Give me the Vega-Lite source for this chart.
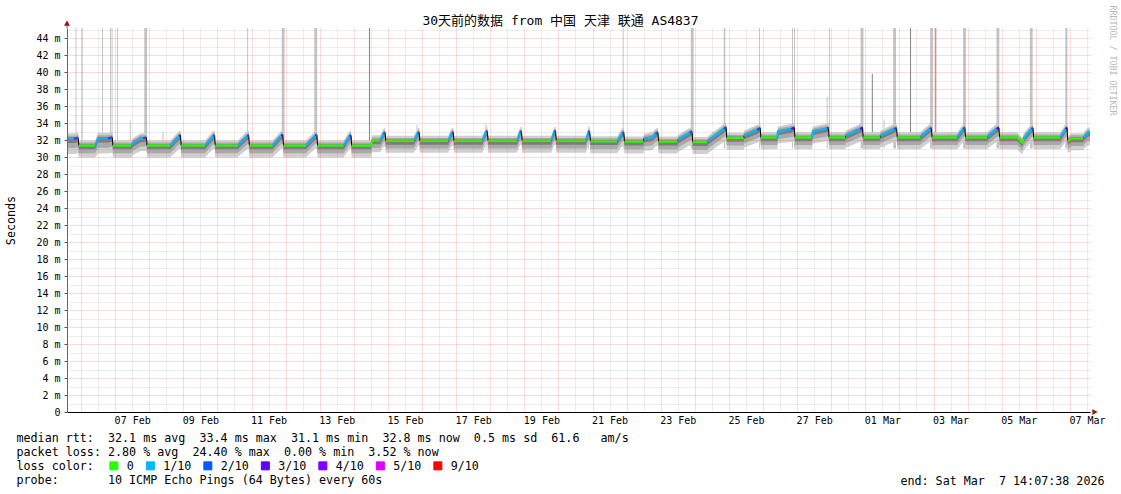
{
"$schema":"https://vega.github.io/schema/vega-lite/v6.json",
"width":1023,"height":384,
"autosize":"none",
"padding":{"left":67,"top":28,"right":31,"bottom":82},
"background":"white",
"config":{"view":{"stroke":null},"font":"DejaVu Sans Mono"},
"title":{"text":"30天前的数据 from 中国 天津 联通 AS4837","font":"DejaVu Sans Mono, Noto Sans CJK SC","fontSize":13,"fontWeight":"normal","color":"#000","anchor":"middle","frame":"group","dx":-18,"dy":35,"offset":2,"baseline":"alphabetic"},
"resolve":{"axis":{"x":"independent","y":"independent"}},
"datasets":{
"sp":[
{"s":"2026-02-05T20:10","e":"2026-02-05T20:50","top":50,"k":"light"},
{"s":"2026-02-06T00:30","e":"2026-02-06T01:10","top":50,"k":"light"},
{"s":"2026-02-06T14:50","e":"2026-02-06T15:30","top":50,"k":"light"},
{"s":"2026-02-06T20:20","e":"2026-02-06T21:00","top":50,"k":"light"},
{"s":"2026-02-06T21:30","e":"2026-02-06T22:10","top":50,"k":"light"},
{"s":"2026-02-07T01:25","e":"2026-02-07T02:05","top":50,"k":"light"},
{"s":"2026-02-07T20:30","e":"2026-02-07T22:30","top":50,"k":"light"},
{"s":"2026-02-07T10:20","e":"2026-02-07T11:00","top":34.3,"k":"light"},
{"s":"2026-02-08T09:25","e":"2026-02-08T10:05","top":33.0,"k":"light"},
{"s":"2026-02-10T20:55","e":"2026-02-10T21:35","top":50,"k":"light"},
{"s":"2026-02-11T21:15","e":"2026-02-11T23:15","top":50,"k":"light"},
{"s":"2026-02-12T20:10","e":"2026-02-12T22:10","top":50,"k":"light"},
{"s":"2026-02-14T10:40","e":"2026-02-14T11:20","top":50,"k":"dark"},
{"s":"2026-02-15T20:10","e":"2026-02-15T20:50","top":33.8,"k":"light"},
{"s":"2026-02-17T20:40","e":"2026-02-17T21:20","top":33.9,"k":"light"},
{"s":"2026-02-20T20:50","e":"2026-02-20T21:30","top":33.6,"k":"light"},
{"s":"2026-02-21T21:15","e":"2026-02-21T21:55","top":50,"k":"light"},
{"s":"2026-02-23T21:10","e":"2026-02-23T23:10","top":50,"k":"light"},
{"s":"2026-02-24T20:20","e":"2026-02-24T21:25","top":50,"k":"light"},
{"s":"2026-02-25T21:10","e":"2026-02-25T21:50","top":50,"k":"light"},
{"s":"2026-02-26T20:25","e":"2026-02-26T21:05","top":50,"k":"light"},
{"s":"2026-02-26T21:50","e":"2026-02-26T22:30","top":50,"k":"light"},
{"s":"2026-02-27T22:25","e":"2026-02-27T23:05","top":50,"k":"light"},
{"s":"2026-02-27T20:50","e":"2026-02-27T21:30","top":37.1,"k":"light"},
{"s":"2026-02-28T20:40","e":"2026-02-28T22:40","top":50,"k":"light"},
{"s":"2026-03-01T04:35","e":"2026-03-01T05:15","top":39.8,"k":"dark"},
{"s":"2026-03-01T12:50","e":"2026-03-01T13:30","top":34.4,"k":"light"},
{"s":"2026-03-01T19:36","e":"2026-03-01T21:36","top":50,"k":"light"},
{"s":"2026-03-02T07:30","e":"2026-03-02T08:10","top":50,"k":"dark"},
{"s":"2026-03-02T21:36","e":"2026-03-02T23:36","top":50,"k":"light"},
{"s":"2026-03-03T01:15","e":"2026-03-03T01:55","top":50,"k":"dark"},
{"s":"2026-03-03T20:48","e":"2026-03-03T22:48","top":50,"k":"light"},
{"s":"2026-03-04T20:18","e":"2026-03-04T22:18","top":50,"k":"light"},
{"s":"2026-03-05T19:48","e":"2026-03-05T21:48","top":50,"k":"light"},
{"s":"2026-03-06T20:45","e":"2026-03-06T22:15","top":50,"k":"light"}
],
"d":[
{"t":"2026-02-05T14:07:38","m":32.15,"g":1,"k":"1/10","a":30.35,"b":31.05,"c":31.65,"d":32.3,"e":32.5,"f":32.8},
{"t":"2026-02-05T19:00","m":32.15,"g":1,"k":"1/10","a":30.35,"b":31.05,"c":31.65,"d":32.3,"e":32.5,"f":32.8},
{"t":"2026-02-05T19:00","m":32.15,"g":2,"k":"2/10","a":30.35,"b":31.05,"c":31.65,"d":32.3,"e":32.5,"f":32.8},
{"t":"2026-02-05T22:00","m":32.25,"g":2,"k":"2/10","a":30.45,"b":31.15,"c":31.75,"d":32.4,"e":32.6,"f":32.9},
{"t":"2026-02-05T22:30","m":31.35,"g":3,"k":"0","a":29.95,"b":30.45,"c":30.9,"d":31.5,"e":31.7,"f":31.95},
{"t":"2026-02-06T10:00","m":31.35,"g":3,"k":"0","a":29.95,"b":30.45,"c":30.9,"d":31.5,"e":31.7,"f":31.95},
{"t":"2026-02-06T10:00","m":31.35,"g":4,"k":"1/10","a":29.95,"b":30.45,"c":30.9,"d":31.5,"e":31.7,"f":31.95},
{"t":"2026-02-06T12:00","m":32.2,"g":4,"k":"1/10","a":30.4,"b":31.1,"c":31.7,"d":32.35,"e":32.55,"f":32.85},
{"t":"2026-02-06T19:00","m":32.2,"g":4,"k":"1/10","a":30.4,"b":31.1,"c":31.7,"d":32.35,"e":32.55,"f":32.85},
{"t":"2026-02-06T19:00","m":32.2,"g":5,"k":"2/10","a":30.4,"b":31.1,"c":31.7,"d":32.35,"e":32.55,"f":32.85},
{"t":"2026-02-06T22:00","m":32.3,"g":5,"k":"2/10","a":30.5,"b":31.2,"c":31.8,"d":32.45,"e":32.65,"f":32.95},
{"t":"2026-02-06T22:30","m":31.35,"g":6,"k":"0","a":29.95,"b":30.45,"c":30.9,"d":31.5,"e":31.7,"f":31.95},
{"t":"2026-02-07T11:30","m":31.35,"g":6,"k":"0","a":29.95,"b":30.45,"c":30.9,"d":31.5,"e":31.7,"f":31.95},
{"t":"2026-02-07T11:30","m":31.4,"g":7,"k":"1/10","a":30.0,"b":30.5,"c":30.95,"d":31.55,"e":31.75,"f":32.0},
{"t":"2026-02-07T13:00","m":31.7,"g":7,"k":"1/10","a":30.3,"b":30.8,"c":31.25,"d":31.85,"e":32.05,"f":32.3},
{"t":"2026-02-07T18:00","m":32.2,"g":7,"k":"1/10","a":30.7,"b":31.25,"c":31.75,"d":32.35,"e":32.55,"f":32.8},
{"t":"2026-02-07T20:00","m":32.2,"g":7,"k":"1/10","a":30.7,"b":31.25,"c":31.75,"d":32.35,"e":32.55,"f":32.8},
{"t":"2026-02-07T20:00","m":32.2,"g":8,"k":"2/10","a":30.7,"b":31.25,"c":31.75,"d":32.35,"e":32.55,"f":32.8},
{"t":"2026-02-07T22:00","m":32.3,"g":8,"k":"2/10","a":30.7,"b":31.3,"c":31.85,"d":32.45,"e":32.6,"f":32.85},
{"t":"2026-02-07T22:30","m":31.35,"g":9,"k":"0","a":29.95,"b":30.45,"c":30.9,"d":31.5,"e":31.7,"f":31.95},
{"t":"2026-02-08T15:00","m":31.35,"g":9,"k":"0","a":29.95,"b":30.45,"c":30.9,"d":31.5,"e":31.7,"f":31.95},
{"t":"2026-02-08T15:00","m":31.4,"g":10,"k":"1/10","a":30.0,"b":30.5,"c":30.95,"d":31.55,"e":31.75,"f":32.0},
{"t":"2026-02-08T21:00","m":32.45,"g":10,"k":"1/10","a":30.95,"b":31.5,"c":32.0,"d":32.6,"e":32.8,"f":33.05},
{"t":"2026-02-08T21:00","m":32.45,"g":11,"k":"3/10","a":30.95,"b":31.5,"c":32.0,"d":32.6,"e":32.8,"f":33.05},
{"t":"2026-02-08T22:00","m":32.55,"g":11,"k":"3/10","a":30.95,"b":31.55,"c":32.1,"d":32.7,"e":32.85,"f":33.1},
{"t":"2026-02-08T22:30","m":31.35,"g":12,"k":"0","a":29.95,"b":30.45,"c":30.9,"d":31.5,"e":31.7,"f":31.95},
{"t":"2026-02-09T15:30","m":31.35,"g":12,"k":"0","a":29.95,"b":30.45,"c":30.9,"d":31.5,"e":31.7,"f":31.95},
{"t":"2026-02-09T15:30","m":31.4,"g":13,"k":"1/10","a":30.0,"b":30.5,"c":30.95,"d":31.55,"e":31.75,"f":32.0},
{"t":"2026-02-09T21:00","m":32.45,"g":13,"k":"1/10","a":30.95,"b":31.5,"c":32.0,"d":32.6,"e":32.8,"f":33.05},
{"t":"2026-02-09T21:00","m":32.45,"g":14,"k":"2/10","a":30.95,"b":31.5,"c":32.0,"d":32.6,"e":32.8,"f":33.05},
{"t":"2026-02-09T22:00","m":32.55,"g":14,"k":"2/10","a":30.95,"b":31.55,"c":32.1,"d":32.7,"e":32.85,"f":33.1},
{"t":"2026-02-09T22:30","m":31.35,"g":15,"k":"0","a":29.95,"b":30.45,"c":30.9,"d":31.5,"e":31.7,"f":31.95},
{"t":"2026-02-10T14:30","m":31.35,"g":15,"k":"0","a":29.95,"b":30.45,"c":30.9,"d":31.5,"e":31.7,"f":31.95},
{"t":"2026-02-10T14:30","m":31.4,"g":16,"k":"1/10","a":30.0,"b":30.5,"c":30.95,"d":31.55,"e":31.75,"f":32.0},
{"t":"2026-02-10T21:00","m":32.45,"g":16,"k":"1/10","a":30.95,"b":31.5,"c":32.0,"d":32.6,"e":32.8,"f":33.05},
{"t":"2026-02-10T21:00","m":32.45,"g":17,"k":"2/10","a":30.95,"b":31.5,"c":32.0,"d":32.6,"e":32.8,"f":33.05},
{"t":"2026-02-10T22:00","m":32.55,"g":17,"k":"2/10","a":30.95,"b":31.55,"c":32.1,"d":32.7,"e":32.85,"f":33.1},
{"t":"2026-02-10T22:30","m":31.35,"g":18,"k":"0","a":29.95,"b":30.45,"c":30.9,"d":31.5,"e":31.7,"f":31.95},
{"t":"2026-02-11T15:00","m":31.35,"g":18,"k":"0","a":29.95,"b":30.45,"c":30.9,"d":31.5,"e":31.7,"f":31.95},
{"t":"2026-02-11T15:00","m":31.4,"g":19,"k":"1/10","a":30.0,"b":30.5,"c":30.95,"d":31.55,"e":31.75,"f":32.0},
{"t":"2026-02-11T21:00","m":32.5,"g":19,"k":"1/10","a":31.0,"b":31.55,"c":32.05,"d":32.65,"e":32.85,"f":33.1},
{"t":"2026-02-11T21:00","m":32.5,"g":20,"k":"3/10","a":31.0,"b":31.55,"c":32.05,"d":32.65,"e":32.85,"f":33.1},
{"t":"2026-02-11T22:00","m":32.6,"g":20,"k":"3/10","a":31.0,"b":31.6,"c":32.15,"d":32.75,"e":32.9,"f":33.15},
{"t":"2026-02-11T22:30","m":31.35,"g":21,"k":"0","a":29.95,"b":30.45,"c":30.9,"d":31.5,"e":31.7,"f":31.95},
{"t":"2026-02-12T14:30","m":31.35,"g":21,"k":"0","a":29.95,"b":30.45,"c":30.9,"d":31.5,"e":31.7,"f":31.95},
{"t":"2026-02-12T14:30","m":31.4,"g":22,"k":"1/10","a":30.0,"b":30.5,"c":30.95,"d":31.55,"e":31.75,"f":32.0},
{"t":"2026-02-12T21:00","m":32.5,"g":22,"k":"1/10","a":31.0,"b":31.55,"c":32.05,"d":32.65,"e":32.85,"f":33.1},
{"t":"2026-02-12T21:00","m":32.5,"g":23,"k":"2/10","a":31.0,"b":31.55,"c":32.05,"d":32.65,"e":32.85,"f":33.1},
{"t":"2026-02-12T22:00","m":32.6,"g":23,"k":"2/10","a":31.0,"b":31.6,"c":32.15,"d":32.75,"e":32.9,"f":33.15},
{"t":"2026-02-12T22:30","m":31.35,"g":24,"k":"0","a":29.95,"b":30.45,"c":30.9,"d":31.5,"e":31.7,"f":31.95},
{"t":"2026-02-13T17:00","m":31.35,"g":24,"k":"0","a":29.95,"b":30.45,"c":30.9,"d":31.5,"e":31.7,"f":31.95},
{"t":"2026-02-13T17:00","m":31.4,"g":25,"k":"1/10","a":30.0,"b":30.5,"c":30.95,"d":31.55,"e":31.75,"f":32.0},
{"t":"2026-02-13T21:00","m":32.45,"g":25,"k":"1/10","a":30.95,"b":31.5,"c":32.0,"d":32.6,"e":32.8,"f":33.05},
{"t":"2026-02-13T21:00","m":32.45,"g":26,"k":"2/10","a":30.95,"b":31.5,"c":32.0,"d":32.6,"e":32.8,"f":33.05},
{"t":"2026-02-13T22:00","m":32.55,"g":26,"k":"2/10","a":30.95,"b":31.55,"c":32.1,"d":32.7,"e":32.85,"f":33.1},
{"t":"2026-02-13T22:30","m":31.35,"g":27,"k":"0","a":29.95,"b":30.45,"c":30.9,"d":31.5,"e":31.7,"f":31.95},
{"t":"2026-02-14T12:00","m":31.35,"g":27,"k":"0","a":29.95,"b":30.45,"c":30.9,"d":31.5,"e":31.7,"f":31.95},
{"t":"2026-02-14T13:00","m":31.95,"g":27,"k":"0","a":30.55,"b":31.05,"c":31.5,"d":32.1,"e":32.3,"f":32.55},
{"t":"2026-02-14T18:30","m":31.95,"g":27,"k":"0","a":30.55,"b":31.05,"c":31.5,"d":32.1,"e":32.3,"f":32.55},
{"t":"2026-02-14T18:30","m":31.95,"g":28,"k":"1/10","a":30.55,"b":31.05,"c":31.5,"d":32.1,"e":32.3,"f":32.55},
{"t":"2026-02-14T21:00","m":32.75,"g":28,"k":"1/10","a":31.25,"b":31.8,"c":32.3,"d":32.9,"e":33.1,"f":33.35},
{"t":"2026-02-14T21:00","m":32.75,"g":29,"k":"2/10","a":31.25,"b":31.8,"c":32.3,"d":32.9,"e":33.1,"f":33.35},
{"t":"2026-02-14T22:00","m":32.85,"g":29,"k":"2/10","a":31.25,"b":31.85,"c":32.4,"d":33.0,"e":33.15,"f":33.4},
{"t":"2026-02-14T22:30","m":31.9,"g":30,"k":"0","a":30.5,"b":31.0,"c":31.45,"d":32.05,"e":32.25,"f":32.5},
{"t":"2026-02-15T18:30","m":31.9,"g":30,"k":"0","a":30.5,"b":31.0,"c":31.45,"d":32.05,"e":32.25,"f":32.5},
{"t":"2026-02-15T18:30","m":31.95,"g":31,"k":"1/10","a":30.55,"b":31.05,"c":31.5,"d":32.1,"e":32.3,"f":32.55},
{"t":"2026-02-15T21:00","m":32.8,"g":31,"k":"1/10","a":31.3,"b":31.85,"c":32.35,"d":32.95,"e":33.15,"f":33.4},
{"t":"2026-02-15T21:00","m":32.8,"g":32,"k":"2/10","a":31.3,"b":31.85,"c":32.35,"d":32.95,"e":33.15,"f":33.4},
{"t":"2026-02-15T22:00","m":32.9,"g":32,"k":"2/10","a":31.3,"b":31.9,"c":32.45,"d":33.05,"e":33.2,"f":33.45},
{"t":"2026-02-15T22:30","m":31.9,"g":33,"k":"0","a":30.5,"b":31.0,"c":31.45,"d":32.05,"e":32.25,"f":32.5},
{"t":"2026-02-16T18:30","m":31.9,"g":33,"k":"0","a":30.5,"b":31.0,"c":31.45,"d":32.05,"e":32.25,"f":32.5},
{"t":"2026-02-16T18:30","m":31.95,"g":34,"k":"1/10","a":30.55,"b":31.05,"c":31.5,"d":32.1,"e":32.3,"f":32.55},
{"t":"2026-02-16T21:00","m":32.8,"g":34,"k":"1/10","a":31.3,"b":31.85,"c":32.35,"d":32.95,"e":33.15,"f":33.4},
{"t":"2026-02-16T21:00","m":32.8,"g":35,"k":"2/10","a":31.3,"b":31.85,"c":32.35,"d":32.95,"e":33.15,"f":33.4},
{"t":"2026-02-16T22:00","m":32.9,"g":35,"k":"2/10","a":31.3,"b":31.9,"c":32.45,"d":33.05,"e":33.2,"f":33.45},
{"t":"2026-02-16T22:30","m":31.9,"g":36,"k":"0","a":30.5,"b":31.0,"c":31.45,"d":32.05,"e":32.25,"f":32.5},
{"t":"2026-02-17T18:30","m":31.9,"g":36,"k":"0","a":30.5,"b":31.0,"c":31.45,"d":32.05,"e":32.25,"f":32.5},
{"t":"2026-02-17T18:30","m":31.95,"g":37,"k":"1/10","a":30.55,"b":31.05,"c":31.5,"d":32.1,"e":32.3,"f":32.55},
{"t":"2026-02-17T21:00","m":32.9,"g":37,"k":"1/10","a":31.4,"b":31.95,"c":32.45,"d":33.05,"e":33.25,"f":33.5},
{"t":"2026-02-17T21:00","m":32.9,"g":38,"k":"2/10","a":31.4,"b":31.95,"c":32.45,"d":33.05,"e":33.25,"f":33.5},
{"t":"2026-02-17T22:00","m":33.0,"g":38,"k":"2/10","a":31.4,"b":32.0,"c":32.55,"d":33.15,"e":33.3,"f":33.55},
{"t":"2026-02-17T22:30","m":31.9,"g":39,"k":"0","a":30.5,"b":31.0,"c":31.45,"d":32.05,"e":32.25,"f":32.5},
{"t":"2026-02-18T19:00","m":31.9,"g":39,"k":"0","a":30.5,"b":31.0,"c":31.45,"d":32.05,"e":32.25,"f":32.5},
{"t":"2026-02-18T19:00","m":31.95,"g":40,"k":"1/10","a":30.55,"b":31.05,"c":31.5,"d":32.1,"e":32.3,"f":32.55},
{"t":"2026-02-18T21:00","m":32.9,"g":40,"k":"1/10","a":31.4,"b":31.95,"c":32.45,"d":33.05,"e":33.25,"f":33.5},
{"t":"2026-02-18T21:00","m":32.9,"g":41,"k":"2/10","a":31.4,"b":31.95,"c":32.45,"d":33.05,"e":33.25,"f":33.5},
{"t":"2026-02-18T22:00","m":33.0,"g":41,"k":"2/10","a":31.4,"b":32.0,"c":32.55,"d":33.15,"e":33.3,"f":33.55},
{"t":"2026-02-18T22:30","m":31.9,"g":42,"k":"0","a":30.5,"b":31.0,"c":31.45,"d":32.05,"e":32.25,"f":32.5},
{"t":"2026-02-19T19:00","m":31.9,"g":42,"k":"0","a":30.5,"b":31.0,"c":31.45,"d":32.05,"e":32.25,"f":32.5},
{"t":"2026-02-19T19:00","m":31.95,"g":43,"k":"1/10","a":30.55,"b":31.05,"c":31.5,"d":32.1,"e":32.3,"f":32.55},
{"t":"2026-02-19T21:00","m":32.9,"g":43,"k":"1/10","a":31.4,"b":31.95,"c":32.45,"d":33.05,"e":33.25,"f":33.5},
{"t":"2026-02-19T21:00","m":32.9,"g":44,"k":"2/10","a":31.4,"b":31.95,"c":32.45,"d":33.05,"e":33.25,"f":33.5},
{"t":"2026-02-19T22:00","m":33.05,"g":44,"k":"2/10","a":31.45,"b":32.05,"c":32.6,"d":33.2,"e":33.35,"f":33.6},
{"t":"2026-02-19T22:30","m":31.9,"g":45,"k":"0","a":30.5,"b":31.0,"c":31.45,"d":32.05,"e":32.25,"f":32.5},
{"t":"2026-02-20T19:30","m":31.9,"g":45,"k":"0","a":30.5,"b":31.0,"c":31.45,"d":32.05,"e":32.25,"f":32.5},
{"t":"2026-02-20T19:30","m":31.95,"g":46,"k":"1/10","a":30.55,"b":31.05,"c":31.5,"d":32.1,"e":32.3,"f":32.55},
{"t":"2026-02-20T21:00","m":32.9,"g":46,"k":"1/10","a":31.4,"b":31.95,"c":32.45,"d":33.05,"e":33.25,"f":33.5},
{"t":"2026-02-20T21:00","m":32.9,"g":47,"k":"2/10","a":31.4,"b":31.95,"c":32.45,"d":33.05,"e":33.25,"f":33.5},
{"t":"2026-02-20T22:00","m":33.0,"g":47,"k":"2/10","a":31.4,"b":32.0,"c":32.55,"d":33.15,"e":33.3,"f":33.55},
{"t":"2026-02-20T22:30","m":31.85,"g":48,"k":"0","a":30.45,"b":30.95,"c":31.4,"d":32.0,"e":32.2,"f":32.45},
{"t":"2026-02-21T17:30","m":31.85,"g":48,"k":"0","a":30.45,"b":30.95,"c":31.4,"d":32.0,"e":32.2,"f":32.45},
{"t":"2026-02-21T17:30","m":31.9,"g":49,"k":"1/10","a":30.5,"b":31.0,"c":31.45,"d":32.05,"e":32.25,"f":32.5},
{"t":"2026-02-21T21:00","m":32.8,"g":49,"k":"1/10","a":31.3,"b":31.85,"c":32.35,"d":32.95,"e":33.15,"f":33.4},
{"t":"2026-02-21T21:00","m":32.8,"g":50,"k":"2/10","a":31.3,"b":31.85,"c":32.35,"d":32.95,"e":33.15,"f":33.4},
{"t":"2026-02-21T22:00","m":32.9,"g":50,"k":"2/10","a":31.3,"b":31.9,"c":32.45,"d":33.05,"e":33.2,"f":33.45},
{"t":"2026-02-21T22:30","m":31.8,"g":51,"k":"0","a":30.4,"b":30.9,"c":31.35,"d":31.95,"e":32.15,"f":32.4},
{"t":"2026-02-22T12:00","m":31.8,"g":51,"k":"0","a":30.4,"b":30.9,"c":31.35,"d":31.95,"e":32.15,"f":32.4},
{"t":"2026-02-22T12:00","m":32.15,"g":52,"k":"1/10","a":30.75,"b":31.25,"c":31.7,"d":32.3,"e":32.5,"f":32.75},
{"t":"2026-02-22T18:00","m":32.3,"g":52,"k":"1/10","a":30.8,"b":31.35,"c":31.85,"d":32.45,"e":32.65,"f":32.9},
{"t":"2026-02-22T20:30","m":32.75,"g":52,"k":"1/10","a":31.25,"b":31.8,"c":32.3,"d":32.9,"e":33.1,"f":33.35},
{"t":"2026-02-22T20:30","m":32.75,"g":53,"k":"2/10","a":31.25,"b":31.8,"c":32.3,"d":32.9,"e":33.1,"f":33.35},
{"t":"2026-02-22T22:00","m":32.9,"g":53,"k":"2/10","a":31.3,"b":31.9,"c":32.45,"d":33.05,"e":33.2,"f":33.45},
{"t":"2026-02-22T22:30","m":31.8,"g":54,"k":"0","a":30.4,"b":30.9,"c":31.35,"d":31.95,"e":32.15,"f":32.4},
{"t":"2026-02-23T12:00","m":31.8,"g":54,"k":"0","a":30.4,"b":30.9,"c":31.35,"d":31.95,"e":32.15,"f":32.4},
{"t":"2026-02-23T12:00","m":32.0,"g":55,"k":"1/10","a":30.6,"b":31.1,"c":31.55,"d":32.15,"e":32.35,"f":32.6},
{"t":"2026-02-23T20:30","m":32.85,"g":55,"k":"1/10","a":31.35,"b":31.9,"c":32.4,"d":33.0,"e":33.2,"f":33.45},
{"t":"2026-02-23T20:30","m":32.85,"g":56,"k":"2/10","a":31.35,"b":31.9,"c":32.4,"d":33.0,"e":33.2,"f":33.45},
{"t":"2026-02-23T22:00","m":33.0,"g":56,"k":"2/10","a":31.4,"b":32.0,"c":32.55,"d":33.15,"e":33.3,"f":33.55},
{"t":"2026-02-23T22:30","m":31.75,"g":57,"k":"0","a":30.35,"b":30.85,"c":31.3,"d":31.9,"e":32.1,"f":32.35},
{"t":"2026-02-24T09:00","m":31.75,"g":57,"k":"0","a":30.35,"b":30.85,"c":31.3,"d":31.9,"e":32.1,"f":32.35},
{"t":"2026-02-24T09:00","m":31.85,"g":58,"k":"1/10","a":30.45,"b":30.95,"c":31.4,"d":32.0,"e":32.2,"f":32.45},
{"t":"2026-02-24T20:30","m":33.3,"g":58,"k":"1/10","a":31.8,"b":32.35,"c":32.85,"d":33.45,"e":33.65,"f":33.9},
{"t":"2026-02-24T20:30","m":33.3,"g":59,"k":"2/10","a":31.8,"b":32.35,"c":32.85,"d":33.45,"e":33.65,"f":33.9},
{"t":"2026-02-24T22:00","m":33.5,"g":59,"k":"2/10","a":31.9,"b":32.5,"c":33.05,"d":33.65,"e":33.8,"f":34.05},
{"t":"2026-02-24T22:30","m":32.25,"g":60,"k":"0","a":30.85,"b":31.35,"c":31.8,"d":32.4,"e":32.6,"f":32.85},
{"t":"2026-02-25T10:30","m":32.25,"g":60,"k":"0","a":30.85,"b":31.35,"c":31.8,"d":32.4,"e":32.6,"f":32.85},
{"t":"2026-02-25T10:30","m":32.5,"g":61,"k":"1/10","a":31.1,"b":31.6,"c":32.05,"d":32.65,"e":32.85,"f":33.1},
{"t":"2026-02-25T20:00","m":33.2,"g":61,"k":"1/10","a":31.7,"b":32.25,"c":32.75,"d":33.35,"e":33.55,"f":33.8},
{"t":"2026-02-25T20:00","m":33.2,"g":62,"k":"2/10","a":31.7,"b":32.25,"c":32.75,"d":33.35,"e":33.55,"f":33.8},
{"t":"2026-02-25T22:00","m":33.4,"g":62,"k":"2/10","a":31.8,"b":32.4,"c":32.95,"d":33.55,"e":33.7,"f":33.95},
{"t":"2026-02-25T22:30","m":32.3,"g":63,"k":"0","a":30.9,"b":31.4,"c":31.85,"d":32.45,"e":32.65,"f":32.9},
{"t":"2026-02-26T10:00","m":32.3,"g":63,"k":"0","a":30.9,"b":31.4,"c":31.85,"d":32.45,"e":32.65,"f":32.9},
{"t":"2026-02-26T10:00","m":32.3,"g":64,"k":"1/10","a":30.9,"b":31.4,"c":31.85,"d":32.45,"e":32.65,"f":32.9},
{"t":"2026-02-26T10:30","m":33.0,"g":64,"k":"1/10","a":31.6,"b":32.1,"c":32.55,"d":33.15,"e":33.35,"f":33.6},
{"t":"2026-02-26T20:00","m":33.3,"g":64,"k":"1/10","a":31.8,"b":32.35,"c":32.85,"d":33.45,"e":33.65,"f":33.9},
{"t":"2026-02-26T20:00","m":33.3,"g":65,"k":"3/10","a":31.8,"b":32.35,"c":32.85,"d":33.45,"e":33.65,"f":33.9},
{"t":"2026-02-26T22:00","m":33.45,"g":65,"k":"3/10","a":31.85,"b":32.45,"c":33.0,"d":33.6,"e":33.75,"f":34.0},
{"t":"2026-02-26T22:30","m":32.3,"g":66,"k":"0","a":30.9,"b":31.4,"c":31.85,"d":32.45,"e":32.65,"f":32.9},
{"t":"2026-02-27T10:30","m":32.3,"g":66,"k":"0","a":30.9,"b":31.4,"c":31.85,"d":32.45,"e":32.65,"f":32.9},
{"t":"2026-02-27T10:30","m":32.3,"g":67,"k":"1/10","a":30.9,"b":31.4,"c":31.85,"d":32.45,"e":32.65,"f":32.9},
{"t":"2026-02-27T11:00","m":33.0,"g":67,"k":"1/10","a":31.6,"b":32.1,"c":32.55,"d":33.15,"e":33.35,"f":33.6},
{"t":"2026-02-27T21:00","m":33.35,"g":67,"k":"1/10","a":31.85,"b":32.4,"c":32.9,"d":33.5,"e":33.7,"f":33.95},
{"t":"2026-02-27T21:00","m":33.35,"g":68,"k":"2/10","a":31.85,"b":32.4,"c":32.9,"d":33.5,"e":33.7,"f":33.95},
{"t":"2026-02-27T22:00","m":33.45,"g":68,"k":"2/10","a":31.85,"b":32.45,"c":33.0,"d":33.6,"e":33.75,"f":34.0},
{"t":"2026-02-27T22:30","m":32.3,"g":69,"k":"0","a":30.9,"b":31.4,"c":31.85,"d":32.45,"e":32.65,"f":32.9},
{"t":"2026-02-28T10:00","m":32.3,"g":69,"k":"0","a":30.9,"b":31.4,"c":31.85,"d":32.45,"e":32.65,"f":32.9},
{"t":"2026-02-28T10:00","m":32.5,"g":70,"k":"1/10","a":31.1,"b":31.6,"c":32.05,"d":32.65,"e":32.85,"f":33.1},
{"t":"2026-02-28T20:30","m":33.3,"g":70,"k":"1/10","a":31.8,"b":32.35,"c":32.85,"d":33.45,"e":33.65,"f":33.9},
{"t":"2026-02-28T20:30","m":33.3,"g":71,"k":"3/10","a":31.8,"b":32.35,"c":32.85,"d":33.45,"e":33.65,"f":33.9},
{"t":"2026-02-28T22:00","m":33.45,"g":71,"k":"3/10","a":31.85,"b":32.45,"c":33.0,"d":33.6,"e":33.75,"f":34.0},
{"t":"2026-02-28T22:30","m":32.3,"g":72,"k":"0","a":30.9,"b":31.4,"c":31.85,"d":32.45,"e":32.65,"f":32.9},
{"t":"2026-03-01T10:30","m":32.3,"g":72,"k":"0","a":30.9,"b":31.4,"c":31.85,"d":32.45,"e":32.65,"f":32.9},
{"t":"2026-03-01T10:30","m":32.5,"g":73,"k":"1/10","a":31.1,"b":31.6,"c":32.05,"d":32.65,"e":32.85,"f":33.1},
{"t":"2026-03-01T20:30","m":33.3,"g":73,"k":"1/10","a":31.8,"b":32.35,"c":32.85,"d":33.45,"e":33.65,"f":33.9},
{"t":"2026-03-01T20:30","m":33.3,"g":74,"k":"2/10","a":31.8,"b":32.35,"c":32.85,"d":33.45,"e":33.65,"f":33.9},
{"t":"2026-03-01T22:00","m":33.4,"g":74,"k":"2/10","a":31.8,"b":32.4,"c":32.95,"d":33.55,"e":33.7,"f":33.95},
{"t":"2026-03-01T22:30","m":32.3,"g":75,"k":"0","a":30.9,"b":31.4,"c":31.85,"d":32.45,"e":32.65,"f":32.9},
{"t":"2026-03-02T15:00","m":32.3,"g":75,"k":"0","a":30.9,"b":31.4,"c":31.85,"d":32.45,"e":32.65,"f":32.9},
{"t":"2026-03-02T15:00","m":32.4,"g":76,"k":"1/10","a":31.0,"b":31.5,"c":31.95,"d":32.55,"e":32.75,"f":33.0},
{"t":"2026-03-02T21:30","m":33.3,"g":76,"k":"1/10","a":31.8,"b":32.35,"c":32.85,"d":33.45,"e":33.65,"f":33.9},
{"t":"2026-03-02T21:30","m":33.3,"g":77,"k":"2/10","a":31.8,"b":32.35,"c":32.85,"d":33.45,"e":33.65,"f":33.9},
{"t":"2026-03-02T22:30","m":33.4,"g":77,"k":"2/10","a":31.8,"b":32.4,"c":32.95,"d":33.55,"e":33.7,"f":33.95},
{"t":"2026-03-02T23:00","m":32.3,"g":78,"k":"0","a":30.9,"b":31.4,"c":31.85,"d":32.45,"e":32.65,"f":32.9},
{"t":"2026-03-03T17:00","m":32.3,"g":78,"k":"0","a":30.9,"b":31.4,"c":31.85,"d":32.45,"e":32.65,"f":32.9},
{"t":"2026-03-03T17:00","m":32.4,"g":79,"k":"1/10","a":31.0,"b":31.5,"c":31.95,"d":32.55,"e":32.75,"f":33.0},
{"t":"2026-03-03T21:00","m":33.3,"g":79,"k":"1/10","a":31.8,"b":32.35,"c":32.85,"d":33.45,"e":33.65,"f":33.9},
{"t":"2026-03-03T21:00","m":33.3,"g":80,"k":"2/10","a":31.8,"b":32.35,"c":32.85,"d":33.45,"e":33.65,"f":33.9},
{"t":"2026-03-03T22:00","m":33.45,"g":80,"k":"2/10","a":31.85,"b":32.45,"c":33.0,"d":33.6,"e":33.75,"f":34.0},
{"t":"2026-03-03T22:30","m":32.3,"g":81,"k":"0","a":30.9,"b":31.4,"c":31.85,"d":32.45,"e":32.65,"f":32.9},
{"t":"2026-03-04T14:00","m":32.3,"g":81,"k":"0","a":30.9,"b":31.4,"c":31.85,"d":32.45,"e":32.65,"f":32.9},
{"t":"2026-03-04T14:00","m":32.4,"g":82,"k":"1/10","a":31.0,"b":31.5,"c":31.95,"d":32.55,"e":32.75,"f":33.0},
{"t":"2026-03-04T20:30","m":33.3,"g":82,"k":"1/10","a":31.8,"b":32.35,"c":32.85,"d":33.45,"e":33.65,"f":33.9},
{"t":"2026-03-04T20:30","m":33.3,"g":83,"k":"3/10","a":31.8,"b":32.35,"c":32.85,"d":33.45,"e":33.65,"f":33.9},
{"t":"2026-03-04T22:00","m":33.45,"g":83,"k":"3/10","a":31.85,"b":32.45,"c":33.0,"d":33.6,"e":33.75,"f":34.0},
{"t":"2026-03-04T22:30","m":32.3,"g":84,"k":"0","a":30.9,"b":31.4,"c":31.85,"d":32.45,"e":32.65,"f":32.9},
{"t":"2026-03-05T11:00","m":32.3,"g":84,"k":"0","a":30.9,"b":31.4,"c":31.85,"d":32.45,"e":32.65,"f":32.9},
{"t":"2026-03-05T14:30","m":31.7,"g":84,"k":"0","a":30.3,"b":30.8,"c":31.25,"d":31.85,"e":32.05,"f":32.3},
{"t":"2026-03-05T15:30","m":32.2,"g":84,"k":"0","a":30.8,"b":31.3,"c":31.75,"d":32.35,"e":32.55,"f":32.8},
{"t":"2026-03-05T15:30","m":32.2,"g":85,"k":"1/10","a":30.8,"b":31.3,"c":31.75,"d":32.35,"e":32.55,"f":32.8},
{"t":"2026-03-05T21:00","m":33.3,"g":85,"k":"1/10","a":31.8,"b":32.35,"c":32.85,"d":33.45,"e":33.65,"f":33.9},
{"t":"2026-03-05T21:00","m":33.3,"g":86,"k":"2/10","a":31.8,"b":32.35,"c":32.85,"d":33.45,"e":33.65,"f":33.9},
{"t":"2026-03-05T22:00","m":33.4,"g":86,"k":"2/10","a":31.8,"b":32.4,"c":32.95,"d":33.55,"e":33.7,"f":33.95},
{"t":"2026-03-05T22:30","m":32.3,"g":87,"k":"0","a":30.9,"b":31.4,"c":31.85,"d":32.45,"e":32.65,"f":32.9},
{"t":"2026-03-06T17:30","m":32.3,"g":87,"k":"0","a":30.9,"b":31.4,"c":31.85,"d":32.45,"e":32.65,"f":32.9},
{"t":"2026-03-06T17:30","m":32.4,"g":88,"k":"1/10","a":31.0,"b":31.5,"c":31.95,"d":32.55,"e":32.75,"f":33.0},
{"t":"2026-03-06T21:00","m":33.3,"g":88,"k":"1/10","a":31.8,"b":32.35,"c":32.85,"d":33.45,"e":33.65,"f":33.9},
{"t":"2026-03-06T21:00","m":33.3,"g":89,"k":"3/10","a":31.8,"b":32.35,"c":32.85,"d":33.45,"e":33.65,"f":33.9},
{"t":"2026-03-06T22:00","m":33.45,"g":89,"k":"3/10","a":31.85,"b":32.45,"c":33.0,"d":33.6,"e":33.75,"f":34.0},
{"t":"2026-03-06T22:30","m":31.85,"g":90,"k":"0","a":30.45,"b":30.95,"c":31.4,"d":32.0,"e":32.2,"f":32.45},
{"t":"2026-03-07T01:00","m":32.2,"g":90,"k":"0","a":30.8,"b":31.3,"c":31.75,"d":32.35,"e":32.55,"f":32.8},
{"t":"2026-03-07T09:30","m":32.2,"g":90,"k":"0","a":30.8,"b":31.3,"c":31.75,"d":32.35,"e":32.55,"f":32.8},
{"t":"2026-03-07T09:30","m":32.3,"g":91,"k":"1/10","a":30.9,"b":31.4,"c":31.85,"d":32.45,"e":32.65,"f":32.9},
{"t":"2026-03-07T13:00","m":32.9,"g":91,"k":"1/10","a":31.4,"b":31.95,"c":32.45,"d":33.05,"e":33.25,"f":33.5},
{"t":"2026-03-07T14:07:38","m":32.8,"g":91,"k":"1/10","a":31.3,"b":31.85,"c":32.35,"d":32.95,"e":33.15,"f":33.4}
]
},
"layer":[
{
"data":{"name":"sp"},
"mark":{"type":"rect","clip":true},
"encoding":{
"x":{"field":"s","type":"temporal","axis":null,"scale":{"nice":false}},
"x2":{"field":"e"},
"y":{"field":"top","type":"quantitative","axis":null,"scale":{"domain":[0,45.18],"nice":false}},
"y2":{"datum":31},
"fill":{"field":"k","type":"nominal","scale":{"domain":["light","dark"],"range":["#c4c4c4","#7d7d7d"]},"legend":null}
}
},
{
"data":{"name":"d"},
"mark":{"type":"area","color":"#cfcfcf"},
"encoding":{
"x":{"field":"t","type":"temporal","scale":{"nice":false},
"axis":{"orient":"bottom","zindex":1,"tickCount":60,"grid":true,
"gridColor":{"condition":{"test":"hours(datum.value)==0","value":"rgba(235,80,80,0.42)"},"value":"rgba(150,150,150,0.33)"},
"gridDash":[1,1],"gridWidth":1,
"labelExpr":"hours(datum.value)==12 && date(datum.value)%2==1 ? timeFormat(datum.value,'%d %b') : ''",
"labelFont":"DejaVu Sans Mono","labelFontSize":10,"labelColor":"#000","labelPadding":3,"labelFlush":false,"labelOverlap":false,"labelBound":false,
"ticks":false,"tickSize":0,"domainColor":"#000","domainWidth":1,
"title":["median rtt:\u00a0 32.1 ms avg\u00a0 33.4 ms max\u00a0 31.1 ms min\u00a0 32.8 ms now\u00a0 0.5 ms sd\u00a0 61.6\u00a0\u00a0 am/s","packet loss: 2.80 % avg\u00a0 24.40 % max\u00a0 0.00 % min\u00a0 3.52 % now","loss color:","probe:\u00a0\u00a0\u00a0\u00a0\u00a0\u00a0 10 ICMP Echo Pings (64 Bytes) every 60s"],
"titleFont":"DejaVu Sans Mono","titleFontSize":11.7,"titleFontWeight":"normal","titleColor":"#000","titleAlign":"left","titleBaseline":"top","titleX":-51,"titleY":20,"titleLineHeight":14}},
"y":{"field":"a","type":"quantitative","scale":{"domain":[0,45.18],"nice":false},
"axis":{"orient":"left","zindex":1,"tickCount":100,"values":[0,1,2,3,4,5,6,7,8,9,10,11,12,13,14,15,16,17,18,19,20,21,22,23,24,25,26,27,28,29,30,31,32,33,34,35,36,37,38,39,40,41,42,43,44,45],
"grid":true,"gridColor":{"condition":{"test":"datum.value%2==0","value":"rgba(235,80,80,0.42)"},"value":"rgba(150,150,150,0.33)"},"gridDash":[1,1],"gridWidth":1,
"labelExpr":"datum.value==0 ? '0' : (datum.value%2==0 ? datum.value+' m' : '')",
"labelFont":"DejaVu Sans Mono","labelFontSize":10,"labelColor":"#000","labelPadding":4,"labelOverlap":false,"labelFlush":false,"labelBound":false,
"tickSize":3,"tickColor":{"condition":{"test":"datum.value%2==1","value":"rgba(0,0,0,0)"},"value":"#555"},
"domainColor":"#666","domainWidth":1,
"title":"Seconds","titleFont":"DejaVu Sans Mono","titleFontSize":11.7,"titleFontWeight":"normal","titleColor":"#000","titleAngle":-90,"titleAlign":"center","titleBaseline":"middle","titleX":-57,"titleY":192}},
"y2":{"field":"f"}
}
},
{
"data":{"name":"d"},
"mark":{"type":"area","color":"#a9a9a9"},
"encoding":{
"x":{"field":"t","type":"temporal","axis":null},
"y":{"field":"b","type":"quantitative","axis":null},
"y2":{"field":"e"}
}
},
{
"data":{"name":"d"},
"mark":{"type":"area","color":"#7c7c7c"},
"encoding":{
"x":{"field":"t","type":"temporal","axis":null},
"y":{"field":"c","type":"quantitative","axis":null},
"y2":{"field":"d"}
}
},
{
"data":{"name":"d"},
"mark":{"type":"line","color":"#000","strokeWidth":1},
"encoding":{
"x":{"field":"t","type":"temporal","axis":null},
"y":{"field":"m","type":"quantitative","axis":null}
}
},
{
"data":{"name":"d"},
"mark":{"type":"line","strokeWidth":2.2},
"encoding":{
"x":{"field":"t","type":"temporal","axis":null},
"y":{"field":"m","type":"quantitative","axis":null},
"detail":{"field":"g","type":"nominal"},
"color":{"field":"k","type":"nominal","scale":{"domain":["0","1/10","2/10","3/10","4/10","5/10","9/10"],"range":["#26ff00","#00b8ff","#0059ff","#5e00ff","#7e00ff","#dd00ff","#ff0000"]},
"legend":{"title":null,"orient":"none","legendX":41,"legendY":432,"direction":"horizontal","columns":7,"gridAlign":"none","labelFont":"DejaVu Sans Mono","labelFontSize":11.7,"labelColor":"#000","labelOffset":7,"columnPadding":9.5,"symbolType":"square","symbolSize":64,"symbolStrokeWidth":1,"symbolOffset":0,"padding":0,
"encode":{"symbols":{"update":{"fill":{"scale":"color","field":"value"},"stroke":{"value":"#000"},"strokeWidth":{"value":1},"opacity":{"value":1}}}}}}
}
},
{
"data":{"name":"d"},
"mark":{"type":"rule","color":"#666","clip":false},
"encoding":{
"x":{"aggregate":"min","field":"t","type":"temporal","axis":null},
"y":{"datum":45.18,"type":"quantitative","axis":null},
"y2":{"datum":45.6}
}
},
{
"data":{"name":"d"},
"mark":{"type":"point","shape":"triangle-up","filled":true,"color":"#8b1a1a","size":36,"opacity":1,"clip":false},
"encoding":{
"x":{"aggregate":"min","field":"t","type":"temporal","axis":null},
"y":{"datum":45.75,"type":"quantitative","axis":null}
}
},
{
"data":{"name":"d"},
"mark":{"type":"point","shape":"triangle-right","filled":true,"color":"#8b1a1a","size":36,"opacity":1,"clip":false,"xOffset":5},
"encoding":{
"x":{"aggregate":"max","field":"t","type":"temporal","axis":null},
"y":{"datum":0,"type":"quantitative","axis":null}
}
},
{
"data":{"name":"d"},
"mark":{"type":"point","opacity":0},
"encoding":{
"x":{"field":"t","type":"temporal","axis":{"orient":"top","domain":false,"ticks":false,"labels":false,"grid":false,"title":"end: Sat Mar\u00a0 7 14:07:38 2026","titleFont":"DejaVu Sans Mono","titleFontSize":11.7,"titleFontWeight":"normal","titleColor":"#000","titleAlign":"right","titleBaseline":"middle","titleX":1037,"titleY":452}},
"y":{"field":"m","type":"quantitative","axis":{"orient":"right","domain":false,"ticks":false,"labels":false,"grid":false,"title":"RRDTOOL / TOBI OETIKER","titleFont":"DejaVu Sans Mono","titleFontSize":8.3,"titleFontWeight":"normal","titleColor":"#b8b8b8","titleAngle":90,"titleAlign":"center","titleBaseline":"middle","titleX":21,"titleY":32}}
}
}
]
}
